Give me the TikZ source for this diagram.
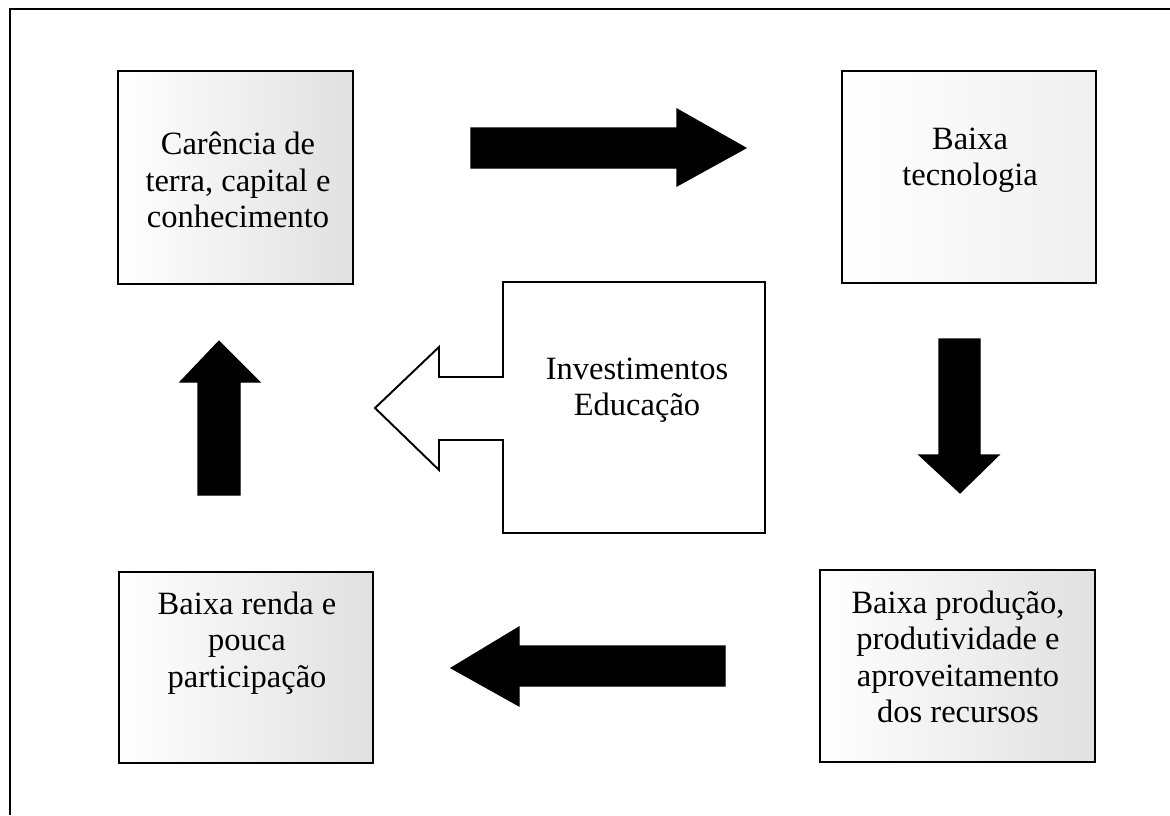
\documentclass[tikz,border=0pt]{standalone}
\usepackage{fontspec}
\setmainfont{Liberation Serif}
\usetikzlibrary{positioning}

\tikzset{
	caixa/.style={draw, line width=1.1pt, shape=rectangle, inner sep=0pt},
	pontilhada/.style={left color=white, right color=black!12},
	texto/.style={align=center, inner sep=0pt, font=\fontsize{18.5}{20.7}\selectfont},
	seta/.style={fill=black, draw=black, line width=0.6pt, line join=miter},
}

\begin{document}
\begin{tikzpicture}[x=0.02cm, y=-0.02cm]
	\useasboundingbox (0, 0) rectangle (1170, 815);
	% Frame:
	\draw[line width=1pt] (1170, 9) -- (10, 9) -- (10, 815);
	% Boxes:
	\node[caixa, pontilhada, minimum width=4.7cm, minimum height=4.26cm] (carencia) at (235.5, 177.5){};
	\node[caixa, left color=white, right color=black!6, minimum width=5.08cm, minimum height=4.24cm] (tecnologia) at (969, 177){};
	\node[caixa, pontilhada, minimum width=5.08cm, minimum height=3.82cm] (renda) at (246, 667.5){};
	\node[caixa, pontilhada, minimum width=5.5cm, minimum height=3.84cm] (producao) at (957.5, 666){};
	\draw[line width=1.1pt, line join=miter] (503, 377) -- (503, 282) -- (765, 282) -- (765, 533) -- (503, 533) -- (503, 440) -- (439, 440) -- (439, 470) -- (375, 408) -- (439, 347) -- (439, 377) -- cycle;
	% Texts:
	\node[texto] (carencia text) at (238, 180){Carência de\\terra, capital e\\conhecimento};
	\node[texto] (tecnologia text) at (970, 160){Baixa\\tecnologia};
	\node[texto] (investimentos text) at (637, 390){Investimentos\\Educação};
	\node[texto] (renda text) at (247, 643){Baixa renda e\\pouca\\participação};
	\node[texto] (producao text) at (958, 657){Baixa produção,\\produtividade e\\aproveitamento\\dos recursos};
	% Arrows:
	\draw[seta] (471, 128) -- (677, 128) -- (677, 109) -- (746, 148) -- (677, 186) -- (677, 168) -- (471, 168) -- cycle;
	\draw[seta] (939, 339) -- (980, 339) -- (980, 455) -- (999, 455) -- (960, 493) -- (919, 455) -- (939, 455) -- cycle;
	\draw[seta] (725, 646) -- (519, 646) -- (519, 627) -- (451, 668) -- (519, 706) -- (519, 686) -- (725, 686) -- cycle;
	\draw[seta] (198, 495) -- (198, 382) -- (180, 382) -- (219, 341) -- (260, 382) -- (240, 382) -- (240, 495) -- cycle;
\end{tikzpicture}
\end{document}
